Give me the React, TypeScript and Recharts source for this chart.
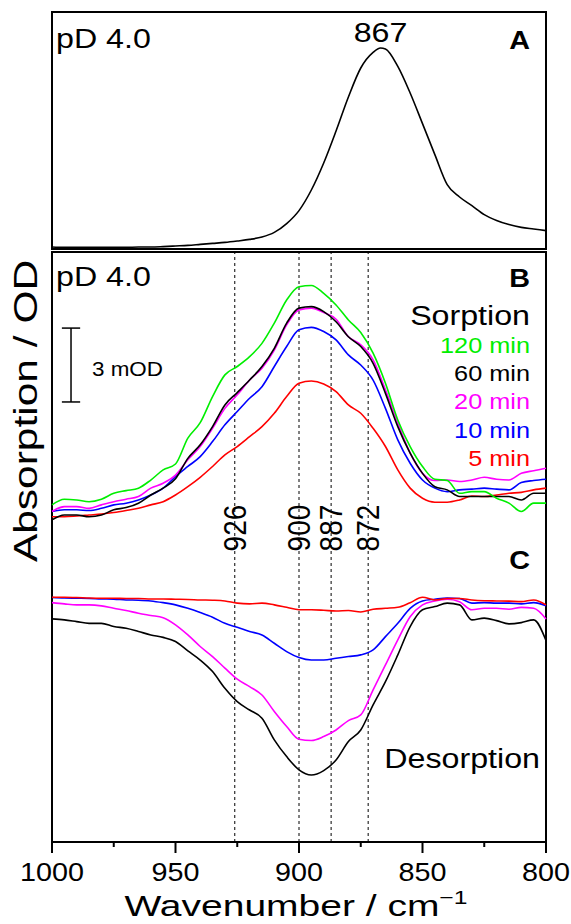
import React from 'react';
import {
  LineChart,
  Line,
  XAxis,
  YAxis,
  ReferenceArea,
  ReferenceLine,
  ReferenceDot,
} from 'recharts';

const FONT = '"Liberation Sans", Arial, Helvetica, sans-serif';
const SX = 1.15; // the figure's lettering is a bit wider than plain Arial

// wavenumber grid (cm-1) for panels B and C
const wavenumbers = [
  1000, 995, 990, 985, 980, 975, 970, 965, 960, 955, 950,
  945, 940, 935, 930, 925, 920, 915, 910, 905, 900,
  895, 890, 885, 880, 875, 870, 865, 860, 855, 850,
  845, 840, 835, 830, 825, 820, 815, 810, 805, 800,
];

// panel A: reference spectrum (normalised)
const wavenumbersA = [
  1000, 995, 990, 985, 980, 975, 970, 965, 960, 955, 950,
  945, 940, 935, 930, 925, 920, 915, 910, 905, 900,
  895, 890, 885, 880, 875, 870, 867, 865, 860, 855, 850,
  845, 840, 835, 830, 825, 820, 815, 810, 805, 800,
];
const absA = [
  0.005, 0.003, 0.003, 0.003, 0.003, 0.003, 0.003, 0.005, 0.005, 0.007, 0.01,
  0.013, 0.018, 0.023, 0.028, 0.035, 0.043, 0.055, 0.078, 0.122, 0.187,
  0.29, 0.425, 0.585, 0.755, 0.9, 0.978, 1.0, 0.995, 0.908, 0.775, 0.622,
  0.467, 0.317, 0.255, 0.212, 0.167, 0.138, 0.117, 0.103, 0.095, 0.087,
];

// panel B: sorption spectra (mOD, offset)
const sorption120 = [
  13.69, 13.92, 13.89, 13.82, 13.92, 14.16, 14.27, 14.37, 14.7, 15.11, 15.35,
  16.4, 17.03, 18.09, 18.97, 19.31, 19.71, 20.25, 21.07, 22.01, 22.55,
  22.6, 22.28, 21.81, 21.2, 20.69, 19.85, 18.63, 17.14, 16.06, 15.25,
  14.73, 14.68, 14.16, 14.23, 14.23, 13.96, 13.76, 13.42, 13.76, 13.76,
];
const sorption60 = [
  13.08, 13.28, 13.28, 13.21, 13.28, 13.49, 13.58, 13.76, 14.09, 14.37, 14.75,
  15.58, 16.13, 16.87, 17.75, 18.25, 18.76, 19.31, 20.05, 21.07, 21.68,
  21.74, 21.54, 21.13, 20.52, 20.12, 19.44, 18.22, 16.87, 15.79, 14.97,
  14.43, 14.3, 14.03, 14.03, 14.03, 14.03, 14.03, 13.89, 14.16, 14.16,
];
const sorption20 = [
  13.42, 13.62, 13.62, 13.55, 13.69, 13.82, 13.92, 14.03, 14.37, 14.57, 14.9,
  15.52, 16.06, 16.8, 17.61, 18.16, 18.76, 19.24, 19.98, 21.0, 21.61,
  21.68, 21.5, 21.23, 20.52, 20.19, 19.58, 18.36, 17.01, 15.79, 14.97,
  14.68, 14.7, 14.64, 14.7, 14.81, 14.73, 14.7, 14.97, 15.08, 15.18,
];
const sorption10 = [
  13.42, 13.49, 13.49, 13.46, 13.55, 13.69, 13.76, 13.89, 14.09, 14.37, 14.84,
  15.25, 15.65, 16.26, 16.94, 17.48, 18.02, 18.49, 19.31, 20.12, 20.8,
  20.9, 20.73, 20.39, 19.78, 19.37, 18.76, 17.61, 16.33, 15.38, 14.7,
  14.37, 14.23, 14.3, 14.33, 14.37, 14.33, 14.3, 14.6, 14.68, 14.73,
];
const sorption5 = [
  13.21, 13.21, 13.24, 13.28, 13.32, 13.38, 13.46, 13.55, 13.69, 13.82, 14.09,
  14.43, 14.81, 15.25, 15.72, 16.06, 16.46, 16.87, 17.41, 18.09, 18.63,
  18.72, 18.6, 18.29, 17.75, 17.41, 16.8, 16.06, 15.11, 14.37, 13.96,
  13.8, 13.8, 13.89, 14.05, 14.03, 14.09, 14.16, 14.2, 14.3, 14.37,
];

// panel C: desorption spectra (mOD, offset)
const desorption60 = [
  9.06, 9.02, 8.95, 8.88, 8.88, 8.75, 8.68, 8.55, 8.41, 8.31, 8.14,
  7.76, 7.39, 6.92, 6.24, 5.7, 5.36, 5.03, 4.15, 3.47, 2.93,
  2.72, 2.9, 3.33, 4.08, 4.55, 5.57, 6.51, 7.6, 8.75, 9.43,
  9.56, 9.7, 9.63, 9.02, 9.09, 8.99, 8.86, 8.91, 9.02, 8.18,
];
const desorption20 = [
  9.72, 9.67, 9.63, 9.63, 9.59, 9.49, 9.4, 9.29, 9.2, 9.11, 8.82,
  8.41, 7.94, 7.53, 7.06, 6.61, 6.31, 5.97, 5.3, 4.69, 4.17,
  4.12, 4.28, 4.55, 4.93, 5.16, 6.18, 7.19, 8.21, 9.15, 9.63,
  9.79, 9.86, 9.76, 9.43, 9.49, 9.49, 9.45, 9.53, 9.49, 9.06,
];
const desorption10 = [
  9.93, 9.91, 9.9, 9.89, 9.87, 9.86, 9.83, 9.82, 9.79, 9.72, 9.63,
  9.49, 9.32, 9.13, 8.88, 8.72, 8.55, 8.41, 8.07, 7.73, 7.49,
  7.39, 7.39, 7.46, 7.53, 7.6, 7.8, 8.34, 8.88, 9.49, 9.79,
  9.86, 9.91, 9.89, 9.7, 9.72, 9.7, 9.7, 9.67, 9.72, 9.59,
];
const desorption5 = [
  9.94, 9.94, 9.93, 9.91, 9.9, 9.9, 9.89, 9.89, 9.87, 9.87, 9.86,
  9.85, 9.83, 9.82, 9.79, 9.7, 9.67, 9.7, 9.63, 9.53, 9.43,
  9.43, 9.41, 9.38, 9.4, 9.34, 9.45, 9.49, 9.53, 9.72, 9.94,
  9.83, 9.89, 9.89, 9.83, 9.8, 9.79, 9.78, 9.76, 9.83, 9.63,
];

const bandPositions = [926, 900, 887, 872];
const bandLabelLevel = 12.75;
const xTicks = [1000, 975, 950, 925, 900, 875, 850, 825, 800];
const topTicks = [975, 950, 925, 900, 875, 850, 825];

const legendLabels = ['120 min', '60 min', '20 min', '10 min', '5 min'];
const legendColors = ['#00ee00', '#000000', '#ff00ff', '#0000ff', '#ff0000'];

const domainA: [number, number] = [-0.005, 1.18];
const domainBC: [number, number] = [0, 23.96];

// 3 mOD scale bar
const barX = 992.3;
const barCapX: [number, number] = [996, 988.6];
const barBottom = 17.87;
const barHeight = 3;

const dataA = wavenumbersA.map((w, i) => ({ w, a: absA[i] }));
const dataBC = wavenumbers.map((w, i) => ({
  w,
  s120: sorption120[i],
  s60: sorption60[i],
  s20: sorption20[i],
  s10: sorption10[i],
  s5: sorption5[i],
  d60: desorption60[i],
  d20: desorption20[i],
  d10: desorption10[i],
  d5: desorption5[i],
}));

function Txt(props: {
  x: number;
  y: number;
  size: number;
  anchor?: 'start' | 'middle' | 'end';
  fill?: string;
  bold?: boolean;
  sx?: number;
  children: React.ReactNode;
}) {
  const { x, y, size, anchor = 'start', fill = '#000', bold = false, sx = SX, children } = props;
  return (
    <text
      transform={`translate(${x},${y}) scale(${sx},1)`}
      fontSize={size}
      textAnchor={anchor}
      fill={fill}
      fontWeight={bold ? 'bold' : 'normal'}
      fontFamily={FONT}
    >
      {children}
    </text>
  );
}

function BottomTick(props: any) {
  const { x, y, payload } = props;
  const major = payload.value % 50 === 0;
  return (
    <g>
      <line x1={x} y1={y} x2={x} y2={y + (major ? 11 : 5)} stroke="#000" strokeWidth={2} />
      {major && (
        <Txt x={x} y={y + 39} size={25} anchor="middle">
          {payload.value}
        </Txt>
      )}
    </g>
  );
}

function TopTick(props: any) {
  const { x, y } = props;
  return <line x1={x} y1={y} x2={x} y2={y + 4} stroke="#000" strokeWidth={1.2} />;
}

const bandLabel = (text: string) => (props: any) => {
  const vb = props.viewBox;
  const cx = vb.x + vb.width / 2;
  const cy = vb.y + vb.height / 2;
  return (
    <text
      transform={`translate(${cx},${cy}) scale(1.12,1) rotate(-90)`}
      textAnchor="middle"
      dominantBaseline="central"
      fontSize={28}
      fontFamily={FONT}
    >
      {text}
    </text>
  );
};

const peakLabel = (props: any) => {
  const vb = props.viewBox;
  const cx = vb.x + vb.width / 2;
  const cy = vb.y + vb.height / 2;
  return (
    <Txt x={cx} y={cy - 6} size={28} anchor="middle">
      867
    </Txt>
  );
};

export default function App() {
  const lineProps = {
    type: 'monotone' as const,
    dot: false,
    strokeWidth: 1.6,
    isAnimationActive: false,
  };

  return (
    <div style={{ position: 'absolute', left: 0, top: 0, width: 571, height: 924, background: '#fff' }}>
      {/* panels B and C share one frame */}
      <div style={{ position: 'absolute', left: 0, top: 249 }}>
        <LineChart width={571} height={675} data={dataBC} margin={{ top: 3, right: 25, bottom: 0, left: 52 }}>
          <XAxis
            dataKey="w"
            type="number"
            domain={[800, 1000]}
            reversed
            ticks={xTicks}
            interval={0}
            height={82}
            axisLine={false}
            tickLine={false}
            tickSize={0}
            tickMargin={0}
            tick={<BottomTick />}
          />
          <YAxis hide type="number" domain={domainBC} allowDataOverflow />
          {bandPositions.map((b) => (
            <ReferenceLine key={b} x={b} stroke="#000" strokeWidth={1} strokeDasharray="3 3" />
          ))}
          <Line dataKey="s5" stroke="#ff0000" {...lineProps} />
          <Line dataKey="s10" stroke="#0000ff" {...lineProps} />
          <Line dataKey="s20" stroke="#ff00ff" {...lineProps} />
          <Line dataKey="s60" stroke="#000000" {...lineProps} />
          <Line dataKey="s120" stroke="#00ee00" {...lineProps} />
          <Line dataKey="d60" stroke="#000000" {...lineProps} />
          <Line dataKey="d20" stroke="#ff00ff" {...lineProps} />
          <Line dataKey="d10" stroke="#0000ff" {...lineProps} />
          <Line dataKey="d5" stroke="#ff0000" {...lineProps} />
          <ReferenceLine
            segment={[{ x: barX, y: barBottom }, { x: barX, y: barBottom + barHeight }]}
            stroke="#000"
            strokeWidth={1.5}
          />
          <ReferenceLine
            segment={[{ x: barCapX[0], y: barBottom }, { x: barCapX[1], y: barBottom }]}
            stroke="#000"
            strokeWidth={1.5}
          />
          <ReferenceLine
            segment={[{ x: barCapX[0], y: barBottom + barHeight }, { x: barCapX[1], y: barBottom + barHeight }]}
            stroke="#000"
            strokeWidth={1.5}
          />
          {bandPositions.map((b) => (
            <ReferenceDot
              key={`lbl${b}`}
              x={b}
              y={bandLabelLevel}
              r={0}
              fill="none"
              stroke="none"
              label={bandLabel(String(b))}
            />
          ))}
          <ReferenceArea
            x1={800}
            x2={1000}
            y1={domainBC[0]}
            y2={domainBC[1]}
            fill="none"
            stroke="#000"
            strokeWidth={2}
          />
        </LineChart>
      </div>

      {/* panel A */}
      <div style={{ position: 'absolute', left: 0, top: 0 }}>
        <LineChart width={571} height={252} data={dataA} margin={{ top: 12, right: 25, bottom: 3, left: 52 }}>
          <XAxis
            dataKey="w"
            type="number"
            orientation="top"
            domain={[800, 1000]}
            reversed
            ticks={topTicks}
            interval={0}
            height={0}
            axisLine={false}
            tickLine={false}
            tickSize={0}
            tickMargin={0}
            tick={<TopTick />}
          />
          <YAxis hide type="number" domain={domainA} allowDataOverflow />
          <Line dataKey="a" stroke="#000" {...lineProps} />
          <ReferenceDot x={867} y={1.0} r={0} fill="none" stroke="none" label={peakLabel} />
          <ReferenceArea
            x1={800}
            x2={1000}
            y1={domainA[0]}
            y2={domainA[1]}
            fill="none"
            stroke="#000"
            strokeWidth={2}
          />
        </LineChart>
      </div>

      {/* text annotations */}
      <svg
        width={571}
        height={924}
        style={{ position: 'absolute', left: 0, top: 0, pointerEvents: 'none' }}
      >
        <Txt x={56} y={48} size={28}>pD 4.0</Txt>
        <Txt x={530} y={49} size={25} anchor="end" bold>A</Txt>
        <Txt x={56} y={286} size={28}>pD 4.0</Txt>
        <Txt x={530} y={287} size={25} anchor="end" bold>B</Txt>
        <Txt x={530} y={325} size={28} anchor="end">Sorption</Txt>
        {legendLabels.map((l, i) => (
          <Txt key={l} x={530} y={353 + i * 28.2} size={22} anchor="end" fill={legendColors[i]}>
            {l}
          </Txt>
        ))}
        <Txt x={92} y={376} size={19.5}>3 mOD</Txt>
        <Txt x={530} y={569} size={25} anchor="end" bold>C</Txt>
        <Txt x={540} y={768} size={28} anchor="end">Desorption</Txt>
        <text
          transform="translate(37,411) scale(1,1.25) rotate(-90)"
          fontSize={34}
          textAnchor="middle"
          fontFamily={FONT}
        >
          Absorption / OD
        </text>
        <Txt x={296} y={916} size={30} anchor="middle" sx={1.3}>
          Wavenumber / cm
          <tspan dy={-12} fontSize={19}>−1</tspan>
        </Txt>
      </svg>
    </div>
  );
}
